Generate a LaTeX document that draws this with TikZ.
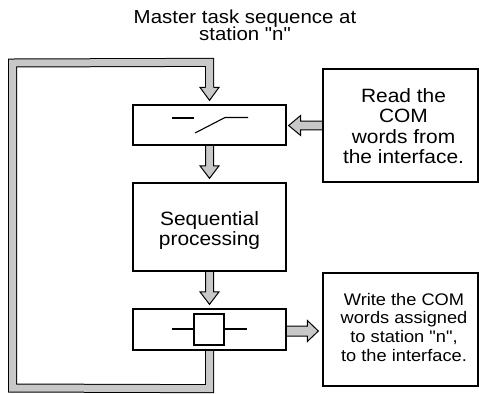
\documentclass[tikz,border=0pt]{standalone}
\usepackage{fontspec}
\setmainfont{Liberation Sans}[Ligatures=TeXOff]
\usetikzlibrary{calc,backgrounds}
\definecolor{bandgray}{RGB}{200,200,200}
\newcommand\vtext[3]{\scalebox{1}[0.92]{\fontsize{#1}{#2}\selectfont\begin{tabular}{@{}c@{}}#3\end{tabular}}}
\newcommand\fatdown[2]{%
  \filldraw[fat] ($(#1)+(-4,-2)$) -- ($(#2)+(-4,-16.5)$) -- ($(#2)+(-9.5,-16.5)$) -- ($(#2)+(0,-4)$)
    -- ($(#2)+(9.5,-16.5)$) -- ($(#2)+(4,-16.5)$) -- ($(#1)+(4,-2)$);}
\begin{document}
\begin{tikzpicture}[x=1bp,y=-1bp,
  box/.style={draw, line width=1.3bp, fill=white, inner sep=0pt},
  fat/.style={fill=bandgray, draw=black, line width=1bp, line join=miter},
  band/.style={draw=black, line width=1bp, double=bandgray, double distance=7bp, line join=miter},
  sym/.style={line width=1.1bp},
  txt/.style={inner sep=0pt}]
\path[use as bounding box] (0,0) rectangle (479,393);
% boxes
\node[box, minimum width=153bp, minimum height=40bp] (sw) at (209.5,125) {};
\node[box, minimum width=153bp, minimum height=88bp] (seq) at (209.5,227) {};
\node[box, minimum width=153bp, minimum height=41bp] (out) at (209.5,329.5) {};
\node[box, minimum width=155bp, minimum height=113bp] (rd) at (400.5,125.5) {};
\node[box, minimum width=155bp, minimum height=113bp] (wr) at (400.5,329.5) {};
% texts
\node[txt] (title) at (245,27) {\vtext{20.5}{14.5}{Master task sequence at\\station "n"}};
\node[txt] (rdt) at ($(rd)+(3,3.5)$) {\vtext{21}{22.4}{Read the\\COM\\words from\\the interface.}};
\node[txt] (seqt) at ($(seq)+(0,4.3)$) {\vtext{21}{20.2}{Sequential\\processing}};
\node[txt] (wrt) at ($(wr)+(3.5,0)$) {\vtext{18.3}{20.4}{Write the COM\\words assigned\\to station "n",\\to the interface.}};
% symbols
\draw[sym] ($(sw)+(-37.5,-7)$) -- ($(sw)+(-15.5,-7)$);
\draw[sym] ($(sw)+(-14.5,8)$) -- ($(sw)+(15.5,-7.5)$) -- ($(sw)+(38.5,-7.5)$);
\draw[sym] ($(out)+(-15.5,-15.5)$) rectangle ($(out)+(14.5,15.5)$);
\draw[sym] ($(out)+(-37.5,-0.5)$) -- ($(out)+(-15.5,-0.5)$);
\draw[sym] ($(out)+(14.5,-0.5)$) -- ($(out)+(37.5,-0.5)$);
% connectors
\begin{scope}[on background layer]
\coordinate (lbr) at ($(out.south)+(0,38)$);
\coordinate (lbl) at (12.5,388);
\coordinate (ltl) at (12.5,63);
\coordinate (ltr) at ($(sw.north)+(0,-42)$);
\draw[band] (out.south) -- (lbr) -- (lbl) -- (ltl) -- (ltr) -- ($(sw.north)+(0,-16.5)$);
\filldraw[fat] ($(sw.north)+(-4,-17)$) -- ($(sw.north)+(-9.5,-17)$) -- ($(sw.north)+(0,-4)$)
    -- ($(sw.north)+(9.5,-17)$) -- ($(sw.north)+(4,-17)$);
\fatdown{sw.south}{seq.north}
\fatdown{seq.south}{out.north}
\filldraw[fat] ($(rd.west)+(2,-4.3)$) -- ($(sw.east |- rd.west)+(14,-4.3)$) -- ($(sw.east |- rd.west)+(14,-10)$)
   -- ($(sw.east |- rd.west)+(2,0)$) -- ($(sw.east |- rd.west)+(14,10)$) -- ($(sw.east |- rd.west)+(14,4.3)$)
   -- ($(rd.west)+(2,4.3)$);
\filldraw[fat] ($(out.east)+(-2,-3.5)$) -- ($(wr.west |- out.east)+(-15,-3.5)$) -- ($(wr.west |- out.east)+(-15,-9)$)
   -- ($(wr.west |- out.east)+(-4,1.5)$) -- ($(wr.west |- out.east)+(-15,12)$) -- ($(wr.west |- out.east)+(-15,6.5)$)
   -- ($(out.east)+(-2,6.5)$);
\end{scope}
\end{tikzpicture}
\end{document}
